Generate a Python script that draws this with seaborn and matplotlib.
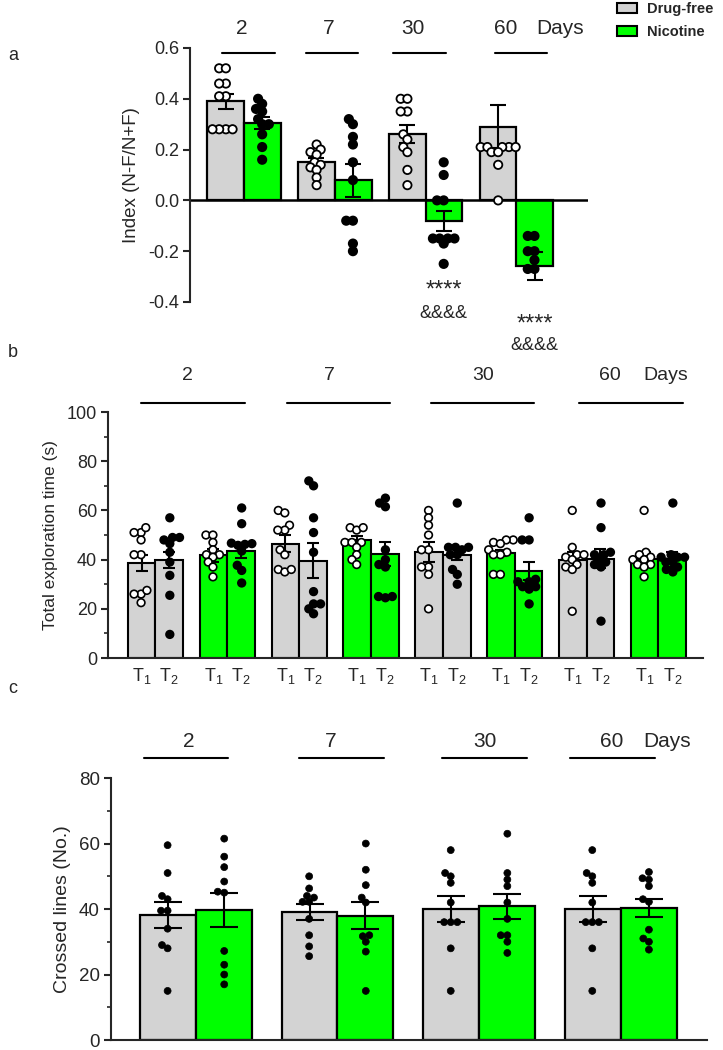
import pandas as pd
import matplotlib
matplotlib.use("Agg")
import matplotlib.pyplot as plt
import seaborn as sns
from matplotlib import font_manager
from matplotlib.container import BarContainer
from matplotlib.patches import Patch
from matplotlib.ticker import MultipleLocator
from matplotlib.transforms import blended_transform_factory

# ================================================================
days = ["2", "7", "30", "60"]
groups = ["Drug-free", "Nicotine"]
trials = ["T1", "T2"]
GRAY = "#d3d3d3"
GREEN = "#00ff00"

# (a) discrimination index
a_free_mean = [0.39, 0.15, 0.26, 0.29]
a_free_sem = [0.03, 0.015, 0.035, 0.085]
a_nic_mean = [0.305, 0.08, -0.08, -0.26]
a_nic_sem = [0.025, 0.065, 0.04, 0.055]
a_free_pts = [
    [0.52, 0.52, 0.46, 0.46, 0.41, 0.41, 0.28, 0.28, 0.28, 0.28],
    [0.22, 0.20, 0.19, 0.18, 0.15, 0.14, 0.13, 0.12, 0.09, 0.06],
    [0.40, 0.40, 0.35, 0.35, 0.26, 0.24, 0.21, 0.19, 0.12, 0.06],
    [0.21, 0.21, 0.21, 0.21, 0.21, 0.19, 0.19, 0.14, 0.0],
]
a_nic_pts = [
    [0.40, 0.38, 0.36, 0.35, 0.32, 0.30, 0.30, 0.26, 0.21, 0.16],
    [0.32, 0.30, 0.25, 0.22, 0.15, 0.08, -0.08, -0.08, -0.17, -0.20],
    [0.15, 0.10, 0.0, 0.0, -0.15, -0.15, -0.15, -0.15, -0.17, -0.25],
    [-0.14, -0.14, -0.20, -0.20, -0.235, -0.27, -0.27],
]

# (b) total exploration time, 8 bar pairs: drug-free / nicotine per day
b_t1_mean = [38.5, 41.7, 46.5, 47.8, 43.1, 42.7, 40.0, 40.1]
b_t1_sem = [3.2, 2.5, 3.4, 1.8, 4.0, 1.2, 3.0, 2.8]
b_t2_mean = [39.8, 43.5, 39.6, 42.3, 42.0, 35.4, 40.4, 40.1]
b_t2_sem = [3.4, 3.0, 7.2, 5.0, 2.2, 3.6, 4.0, 3.2]
b_t1_pts = [
    [51, 53, 51, 48, 42, 42, 26, 27.5, 26, 22.5],
    [50, 50, 47, 44, 42, 42, 41, 39, 37, 33],
    [60, 59, 54, 52, 52, 44, 42, 36, 35, 36],
    [53, 52, 53, 47, 47, 47, 45, 42, 40, 38],
    [60, 57, 54, 50, 44, 44, 37, 37, 34, 20],
    [48, 48, 47, 46.5, 44, 43, 42, 42, 34, 34],
    [60, 45, 42, 42, 41, 40, 38, 37, 36, 19],
    [60, 43, 42, 41, 40, 40, 38, 38, 37, 33],
]
b_t2_pts = [
    [57, 49, 48, 49, 46.5, 43, 39, 33.6, 25.5, 9.6],
    [61, 54.6, 46.7, 45.8, 46.2, 43.5, 37.7, 35.6, 30.5, 46.5],
    [72, 70, 57, 51, 43, 27, 22, 22, 20, 18],
    [63, 61.5, 65, 44, 38, 37, 40, 25, 24.5, 25],
    [63, 45, 45, 45, 44, 42, 42, 36, 34, 30],
    [57, 48, 48, 32, 31, 31, 29, 29, 28, 22],
    [63, 53, 42, 43, 42, 39, 40, 37, 38, 15],
    [63, 42, 41, 41, 41, 39, 39, 37, 36, 35],
]

# (c) crossed lines
c_free_mean = [38.2, 39.2, 40.0, 40.0]
c_free_sem = [4.0, 2.4, 3.9, 3.9]
c_nic_mean = [39.7, 38.0, 40.8, 40.3]
c_nic_sem = [5.2, 4.2, 3.7, 2.8]
c_free_pts = [
    [59.5, 51, 43, 44, 39.5, 39.5, 34, 29, 28, 15],
    [50, 46.3, 44, 42.2, 42.2, 43.5, 37, 32, 28.6, 25.6],
    [58, 51, 50, 48, 42, 36, 36, 36, 28, 15],
    [58, 51, 50, 48, 42, 36, 36, 36, 28, 15],
]
c_nic_pts = [
    [61.5, 56, 52.8, 48.4, 45, 45.3, 27.2, 23, 20, 17],
    [60, 52, 47.3, 43.5, 42, 31.7, 32, 30, 27, 15],
    [63, 51, 49, 47, 42, 37, 32, 32, 30, 26.6],
    [51.3, 49, 49.4, 47, 43, 42.2, 33.7, 31, 30, 27.6],
]
# ================================================================

sns.set_style("ticks")
names = {f.name for f in font_manager.fontManager.ttflist}
NARROW = "Liberation Sans Narrow" if "Liberation Sans Narrow" in names else "Liberation Sans"
plt.rcParams["font.family"] = ["Liberation Sans", "DejaVu Sans"]
plt.rcParams["mathtext.fontset"] = "custom"
plt.rcParams["mathtext.rm"] = NARROW
plt.rcParams["mathtext.default"] = "rm"
plt.rcParams["axes.linewidth"] = 1.5

swarms = []  # (ax, first collection index, shown marker size, edge width)


def bar_containers(ax):
    return [c for c in ax.containers if isinstance(c, BarContainer)]


def style_axis(ax, narrow, size):
    sns.despine(ax=ax)
    ax.tick_params(axis="y", length=5, width=1.5, labelsize=size, pad=3)
    for t in ax.get_yticklabels():
        t.set_family(narrow)
    ax.set_xlabel("")


def add_errors(ax, sems, capsize):
    for container, s in zip(bar_containers(ax), sems):
        for bar, e in zip(container, s):
            x = bar.get_x() + bar.get_width() / 2
            y = bar.get_y() + bar.get_height()
            ax.errorbar(x, y, yerr=e, color="black", lw=1.5, capsize=capsize, capthick=1.5, zorder=2.5)


def swarm(ax, layout_size, show_size, lw, **kw):
    # lay the swarm out with small markers so points overlap like the original
    swarms.append((ax, len(ax.collections), show_size, lw))
    sns.swarmplot(ax=ax, size=layout_size, edgecolor="black", linewidth=lw, legend=False, **kw)


def enlarge_swarms():
    fig.canvas.draw()
    for ax, n0, show_size, lw in swarms:
        for coll in list(ax.collections[n0:]):
            offs = coll.get_offsets()
            fc = coll.get_facecolors()
            coll.remove()
            if len(offs):
                ax.scatter(offs[:, 0], offs[:, 1], s=show_size ** 2, facecolors=fc, edgecolors="black",
                           linewidths=lw, zorder=3, clip_on=False)


def day_header(ax, label_xs, line_xs, half, label_y, line_y, size, family, days_x):
    tr = blended_transform_factory(ax.transData, ax.transAxes)
    for lx, cx, d in zip(label_xs, line_xs, days):
        ax.text(lx, label_y, d, transform=tr, ha="center", va="center", fontsize=size, family=family, clip_on=False)
        ax.plot([cx - half, cx + half], [line_y, line_y], transform=tr, color="black", lw=1.5, clip_on=False)
    ax.text(days_x, label_y, "Days", transform=tr, ha="center", va="center", fontsize=size, family=family, clip_on=False)


fig = plt.figure(figsize=(7.23, 10.5), dpi=100)

# ---------------- (a) ----------------
bars_a = pd.DataFrame({"day": days * 2, "group": [groups[0]] * 4 + [groups[1]] * 4,
                       "value": a_free_mean + a_nic_mean})
pts_a = pd.DataFrame([(d, g, v) for g, pts in zip(groups, [a_free_pts, a_nic_pts])
                      for d, vals in zip(days, pts) for v in vals], columns=["day", "group", "value"])
ax_a = fig.add_axes([0.2628, 0.7124, 0.5505, 0.2419])
sns.barplot(ax=ax_a, data=bars_a, x="day", y="value", hue="group", order=days, hue_order=groups,
            palette=[GRAY, GREEN], saturation=1, width=0.81, edgecolor="black", linewidth=1.6,
            errorbar=None, legend=False, zorder=2)
add_errors(ax_a, [a_free_sem, a_nic_sem], 6)
swarm(ax_a, 3.3, 6, 1.3, data=pts_a, x="day", y="value", hue="group", order=days,
      hue_order=groups, dodge=True, palette={"Drug-free": "white", "Nicotine": "black"})
ax_a.axhline(0, color="black", lw=1.8, zorder=2.2)
ax_a.set_ylim(-0.4, 0.6)
ax_a.set_xlim(-0.595, 3.79)
ax_a.set_yticks([-0.4, -0.2, 0.0, 0.2, 0.4, 0.6])
ax_a.set_yticklabels(["-0.4", "-0.2", "0.0", "0.2", "0.4", "0.6"])
ax_a.set_xticks([])
ax_a.set_ylabel("Index (N-F/N+F)", fontsize=13.5, labelpad=6)
style_axis(ax_a, "Liberation Sans", 13)
ax_a.spines["bottom"].set_visible(False)
day_header(ax_a, [-0.02, 0.93, 1.86, 2.88], [0.05, 0.97, 1.93, 3.05], 0.29, 1.075, 0.98, 15,
           "Liberation Sans", 3.48)
ax_a.text(2.2, -0.355, "****", ha="center", va="center", fontsize=17, clip_on=False)
ax_a.text(2.2, -0.445, "&&&&", ha="center", va="center", fontsize=13, clip_on=False)
ax_a.text(3.2, -0.49, "****", ha="center", va="center", fontsize=17, clip_on=False)
ax_a.text(3.2, -0.57, "&&&&", ha="center", va="center", fontsize=13, clip_on=False)

# ---------------- (b) ----------------
cats = [f"{g} {d}" for d in days for g in groups]
bars_b = pd.DataFrame({"cat": cats * 2, "trial": [trials[0]] * 8 + [trials[1]] * 8,
                       "value": b_t1_mean + b_t2_mean})
pts_b = pd.DataFrame([(c, t, v) for t, pts in zip(trials, [b_t1_pts, b_t2_pts])
                      for c, vals in zip(cats, pts) for v in vals], columns=["cat", "trial", "value"])
ax_b = fig.add_axes([0.1494, 0.3733, 0.823, 0.2343])
sns.barplot(ax=ax_b, data=bars_b, x="cat", y="value", hue="trial", order=cats, hue_order=trials,
            saturation=1, width=0.77, edgecolor="black", linewidth=1.5, errorbar=None, legend=False,
            zorder=2)
for container in bar_containers(ax_b):
    for i, bar in enumerate(container):
        bar.set_facecolor(GRAY if i % 2 == 0 else GREEN)
centers = sorted(b.get_x() + b.get_width() / 2 for c in bar_containers(ax_b) for b in c)
add_errors(ax_b, [b_t1_sem, b_t2_sem], 4)
swarm(ax_b, 3.6, 5.5, 1.2, data=pts_b, x="cat", y="value", hue="trial", order=cats,
      hue_order=trials, dodge=True, palette={"T1": "white", "T2": "black"})
ax_b.set_ylim(0, 100)
ax_b.set_xlim(-0.66, 7.62)
ax_b.yaxis.set_major_locator(MultipleLocator(20))
ax_b.yaxis.set_minor_locator(MultipleLocator(10))
ax_b.tick_params(axis="y", which="minor", length=3, width=1.2)
ax_b.set_xticks(centers)
ax_b.set_xticklabels(["T$_1$", "T$_2$"] * 8, fontsize=13, family=NARROW)
ax_b.tick_params(axis="x", length=0, pad=6)
ax_b.set_ylabel("Total exploration time (s)", fontsize=12.5, labelpad=6)
style_axis(ax_b, NARROW, 13)
day_header(ax_b, [0.44, 2.42, 4.56, 6.32], [0.52, 2.55, 4.55, 6.62], 0.72, 1.148, 1.037, 14, NARROW, 7.1)

# ---------------- (c) ----------------
bars_c = pd.DataFrame({"day": days * 2, "group": [groups[0]] * 4 + [groups[1]] * 4,
                       "value": c_free_mean + c_nic_mean})
pts_c = pd.DataFrame([(d, g, v) for g, pts in zip(groups, [c_free_pts, c_nic_pts])
                      for d, vals in zip(days, pts) for v in vals], columns=["day", "group", "value"])
ax_c = fig.add_axes([0.1535, 0.0095, 0.8243, 0.2495])
sns.barplot(ax=ax_c, data=bars_c, x="day", y="value", hue="group", order=days, hue_order=groups,
            palette=[GRAY, GREEN], saturation=1, width=0.79, edgecolor="black", linewidth=1.6,
            errorbar=None, legend=False, zorder=2)
add_errors(ax_c, [c_free_sem, c_nic_sem], 10)
swarm(ax_c, 4.0, 5, 0.5, data=pts_c, x="day", y="value", hue="group", order=days,
      hue_order=groups, dodge=True, palette={"Drug-free": "black", "Nicotine": "black"})
ax_c.set_ylim(0, 80)
ax_c.set_xlim(-0.6, 3.61)
ax_c.yaxis.set_major_locator(MultipleLocator(20))
ax_c.yaxis.set_minor_locator(MultipleLocator(10))
ax_c.tick_params(axis="y", which="minor", length=3, width=1.2)
ax_c.set_xticks([])
ax_c.set_ylabel("Crossed lines (No.)", fontsize=14, labelpad=6)
style_axis(ax_c, NARROW, 13.5)
day_header(ax_c, [-0.05, 0.95, 2.04, 2.94], [-0.07, 1.03, 2.04, 2.94], 0.3, 1.14, 1.078, 15, NARROW, 3.33)

# ---------------- labels / legend ----------------
for letter, y in zip("abc", [0.947, 0.664, 0.344]):
    fig.text(0.011, y, letter, fontsize=13, va="center")

handles = [Patch(facecolor=GRAY, edgecolor="black", lw=1.5), Patch(facecolor=GREEN, edgecolor="black", lw=1.5)]
fig.legend(handles, groups, loc="upper left", bbox_to_anchor=(0.853, 0.998), frameon=False,
           prop={"weight": "bold", "size": 10.5, "family": "Liberation Sans"}, handlelength=1.4,
           handleheight=0.7, labelspacing=0.6, handletextpad=0.7, borderpad=0, borderaxespad=0)

enlarge_swarms()
plt.savefig("out.png", dpi=100)
